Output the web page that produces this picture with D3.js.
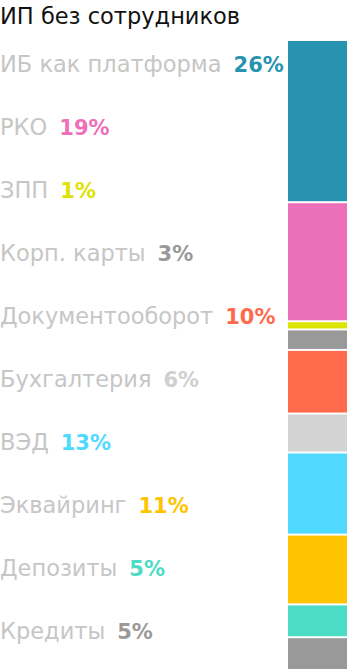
<!DOCTYPE html>
<html>
<head>
<meta charset="utf-8">
<script src="https://cdn.jsdelivr.net/npm/d3@7"></script>
<style>
    html, body { margin: 0; padding: 0; background: #fff; }
    svg { display: block; }
    text { font-family: 'DejaVu Sans', sans-serif; }
</style>
</head>
<body>
<div id="chart"></div>
<script>
const title = 'ИП без сотрудников'
const categories = ['ИБ как платформа', 'РКО', 'ЗПП', 'Корп. карты', 'Документооборот', 'Бухгалтерия', 'ВЭД', 'Эквайринг', 'Депозиты', 'Кредиты']
const values = [26, 19, 1, 3, 10, 6, 13, 11, 5, 5]
const colors = ['#2793b1', '#ec6fba', '#dde300', '#999999', '#ff6a4c', '#d3d3d3', '#50d9ff', '#ffc400', '#4cdbc4', '#999999']

const width = 350,
    height = 669
const bar = {x: 288, w: 59, top: 41, gap: 2}

const svg = d3.select('#chart').append('svg')
    .attr('width', width)
    .attr('height', height)

svg.append('text')
    .attr('x', 0)
    .attr('y', 24)
    .style('font-size', '22.5px')
    .style('fill', '#111')
    .text(title)

// stacked bar: cumulative starts, gaps taken out of the drawable height
const total = d3.sum(values)
const starts = d3.cumsum([0].concat(values.slice(0, -1)))
const usable = height - bar.top - bar.gap * (values.length - 1)
const y = d3.scaleLinear()
    .domain([0, total])
    .range([0, usable])

svg.append('g').selectAll('rect')
    .data(values)
    .enter().append('rect')
    .attr('x', bar.x)
    .attr('width', bar.w)
    .attr('y', (d, i) => bar.top + y(starts[i]) + i * bar.gap)
    .attr('height', d => y(d))
    .style('fill', (d, i) => colors[i])

// labels are evenly spaced rows, not tied to the segments
const row = d3.scalePoint()
    .domain(categories)
    .range([72, 639])

const labels = svg.append('g').selectAll('text')
    .data(categories)
    .enter().append('text')
    .attr('x', 0)
    .attr('y', d => row(d))
    .style('font-size', '22.5px')

labels.append('tspan')
    .style('fill', '#c6c6c6')
    .text(d => d)
labels.append('tspan')
    .attr('dx', 12)
    .style('font-weight', 'bold')
    .style('font-size', '21px')
    .style('fill', (d, i) => colors[i] === '#d3d3d3' ? '#cfcfcf' : colors[i])
    .text((d, i) => values[i] + '%')
</script>
</body>
</html>
